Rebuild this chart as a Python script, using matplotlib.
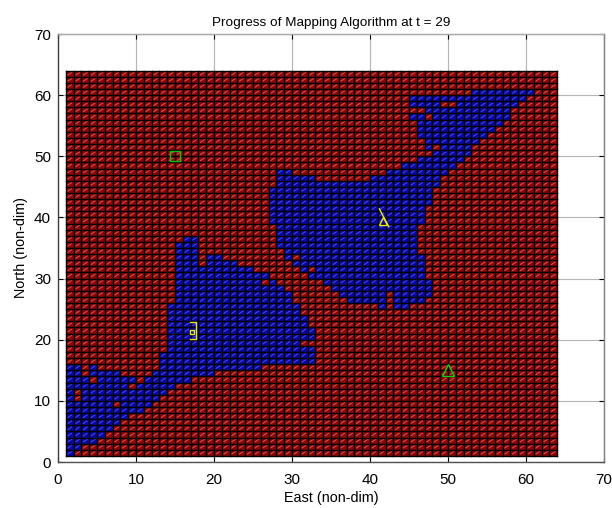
import numpy as np
import matplotlib
matplotlib.use("Agg")
import matplotlib.pyplot as plt
from matplotlib.colors import ListedColormap
from matplotlib.collections import LineCollection

plt.rcParams['font.family'] = ['Liberation Sans', 'DejaVu Sans']

# Blue (mapped) cell spans per grid row, row number -> inclusive column ranges
blue_spans = {
    1: [(1, 1)], 2: [(1, 2)], 3: [(1, 4)], 4: [(1, 5)], 5: [(1, 6)], 6: [(1, 7)],
    7: [(1, 8)], 8: [(1, 10)], 9: [(1, 6), (8, 11)], 10: [(1, 1), (3, 12)],
    11: [(1, 1), (3, 13)], 12: [(1, 8), (10, 14)], 13: [(1, 3), (5, 9), (11, 16)],
    14: [(1, 2), (4, 7), (12, 19)], 15: [(1, 2), (4, 4), (13, 25)],
    16: [(13, 32)], 17: [(13, 32)], 18: [(14, 32)], 19: [(14, 30)], 20: [(14, 32)],
    21: [(14, 32)], 22: [(14, 31)], 23: [(14, 31)], 24: [(14, 30)],
    25: [(14, 30), (41, 41), (43, 44)], 26: [(15, 29), (37, 41), (43, 46)],
    27: [(15, 29), (36, 41), (43, 47)], 28: [(15, 28), (35, 47)],
    29: [(15, 25), (27, 27), (34, 47)], 30: [(15, 26), (32, 46)],
    31: [(15, 24), (31, 31), (33, 46)], 32: [(15, 17), (19, 22), (30, 46)],
    33: [(15, 17), (19, 20), (29, 29), (31, 46)], 34: [(15, 17), (29, 45)],
    35: [(15, 17), (28, 45)], 36: [(16, 17), (28, 45)], 37: [(28, 45)], 38: [(28, 45)],
    39: [(27, 46)], 40: [(27, 46)], 41: [(27, 46)], 42: [(27, 47)], 43: [(27, 47)],
    44: [(27, 47)], 45: [(28, 48)], 46: [(28, 32), (40, 48)], 47: [(28, 29), (42, 49)],
    48: [(44, 50)], 49: [(46, 51)], 50: [(48, 52)], 51: [(47, 47), (49, 52)],
    52: [(47, 53)], 53: [(46, 54)], 54: [(46, 55)], 55: [(46, 56)],
    56: [(45, 46), (48, 57)], 57: [(47, 57)], 58: [(45, 48), (51, 58)],
    59: [(45, 59)], 60: [(53, 60)],
}
grid_nodes = np.arange(1, 65)
ticks = [0, 10, 20, 30, 40, 50, 60, 70]
green_square = (15, 50)
green_triangle = (50, 15)
yellow_triangle = (41.7, 39.4)
yellow_heading = ([41.2, 42.4], [41.4, 38.5])
yellow_square = (17.2, 21.3)
yellow_bracket = ([16.95, 17.7, 17.7, 16.95], [22.9, 22.9, 20.1, 20.1])

state = np.zeros((63, 63), dtype=int)
for row, spans in blue_spans.items():
    for a, b in spans:
        state[row - 1, a - 1:b] = 1

fig = plt.figure(figsize=(6.12, 5.08), dpi=100)
ax = fig.add_axes([58 / 612, (508 - 462) / 508, 546 / 612, 428 / 508])

cmap = ListedColormap(['#8c0606', '#08089c'])
ax.pcolormesh(grid_nodes, grid_nodes, state, cmap=cmap, vmin=0, vmax=1,
              edgecolors='none', linewidth=0, antialiased=False, zorder=2)

# lighter facet diagonal inside every cell
xc, yc = np.meshgrid(grid_nodes[:-1], grid_nodes[:-1])
segs = np.stack([np.stack([xc + 0.2, yc + 0.25], axis=-1),
                 np.stack([xc + 0.8, yc + 0.75], axis=-1)], axis=2).reshape(-1, 2, 2)
cols = np.where(state.ravel()[:, None] == 1,
                np.array([[0.28, 0.28, 0.92]]),
                np.array([[0.85, 0.32, 0.32]]))
diag = LineCollection(segs, colors=cols, linewidths=0.75, zorder=3)
diag.set_snap(False)
ax.add_collection(diag)

# cell outlines: single snapped lines, so every row and column has the same weight
lo, hi = grid_nodes[0], grid_nodes[-1]
for v in grid_nodes:
    ax.plot([v, v], [lo, hi], color='black', lw=1.0, snap=True, solid_capstyle='projecting', zorder=4)
    ax.plot([lo, hi], [v, v], color='black', lw=1.0, snap=True, solid_capstyle='projecting', zorder=4)

ax.plot(*green_square, 's', mfc='none', mec='#10c010', ms=7.6, mew=1, zorder=5)
ax.plot(*green_triangle, '^', mfc='none', mec='#10d010', ms=8, mew=1, zorder=5)
ax.plot(*yellow_triangle, '^', mfc='none', mec='#e8e820', ms=6, mew=1, zorder=6)
ax.plot(*yellow_heading, color='#e8e820', lw=1, zorder=6)
ax.plot(*yellow_square, 's', mfc='none', mec='#e8e820', ms=3, mew=1, zorder=6)
ax.plot(*yellow_bracket, color='#e8e820', lw=1, zorder=6)

ax.set_xlim(0, 70)
ax.set_ylim(0, 70)
ax.set_xticks(ticks)
ax.set_yticks(ticks)
ax.grid(True, color='#b4b4b4', lw=0.8, zorder=1)
ax.set_axisbelow(True)
ax.tick_params(direction='in', length=3.5, width=0.8, top=True, right=True,
               labelsize=11, color='black')
ax.tick_params(axis='x', pad=8)
ax.tick_params(axis='y', pad=5)
for side, c in zip(['left', 'bottom', 'top', 'right'], ['#404040', '#505050', '#a8a8a8', '#808080']):
    ax.spines[side].set_color(c)
    ax.spines[side].set_linewidth(1.0)

ax.set_title('Progress of Mapping Algorithm at t = 29', fontsize=9.7, pad=6)
ax.set_xlabel('East (non-dim)', fontsize=10.4, labelpad=3)
ax.set_ylabel('North (non-dim)', fontsize=10.4, labelpad=4)

fig.savefig('out.png', dpi=100)
